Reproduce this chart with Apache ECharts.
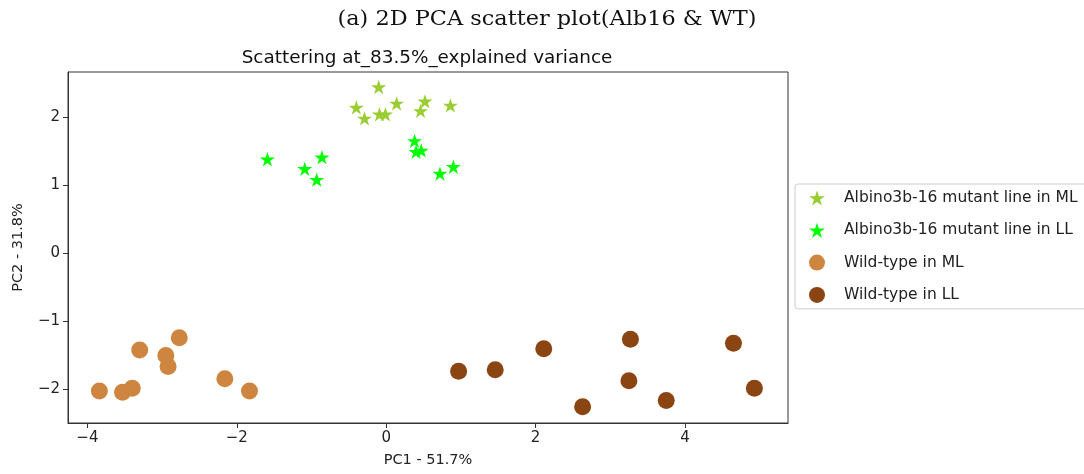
<!DOCTYPE html>
<html>
<head>
<meta charset="utf-8">
<script src="https://cdn.jsdelivr.net/npm/echarts@6/dist/echarts.min.js"></script>
<style>
  html, body { margin: 0; padding: 0; background: #fff; }
  #chart { width: 1084px; height: 474px; }
</style>
</head>
<body>
<div id="chart"></div>
<script>
// PCA scores per group: [PC1, PC2]
const albMl = [
  [-0.10, 2.44], [-0.40, 2.14], [-0.29, 1.98], [-0.09, 2.04], [-0.01, 2.04],
  [0.14, 2.20], [0.52, 2.23], [0.46, 2.09], [0.86, 2.17]
];
const albLl = [
  [-1.59, 1.38], [-1.09, 1.24], [-0.86, 1.41], [-0.93, 1.08], [0.38, 1.65],
  [0.40, 1.49], [0.47, 1.51], [0.72, 1.17], [0.90, 1.27]
];
const wtMl = [
  [-3.84, -2.02], [-3.53, -2.04], [-3.40, -1.98], [-3.30, -1.42], [-2.95, -1.50],
  [-2.92, -1.66], [-2.77, -1.24], [-2.16, -1.84], [-1.83, -2.02]
];
const wtLl = [
  [0.97, -1.73], [1.46, -1.71], [2.11, -1.40], [2.63, -2.25], [3.27, -1.26],
  [3.25, -1.87], [3.75, -2.16], [4.65, -1.32], [4.93, -1.98]
];

const seriesNames = [
  'Albino3b-16 mutant line in ML',
  'Albino3b-16 mutant line in LL',
  'Wild-type in ML',
  'Wild-type in LL'
];
const xTicks = [-4, -2, 0, 2, 4];
const yTicks = [-2, -1, 0, 1, 2];

const STAR = 'path://M10 0 L12.245 6.91 L19.511 6.91 L13.633 11.18 L15.878 18.09 L10 13.82 L4.122 18.09 L6.367 11.18 L0.489 6.91 L7.755 6.91 Z';
const FONT = '"DejaVu Sans", sans-serif';
const minusFmt = v => (v < 0 ? '\u2212' + Math.abs(v) : String(v));

const chart = echarts.init(document.getElementById('chart'));
chart.setOption({
  animation: false,
  backgroundColor: '#fff',
  graphic: [
    {
      // figure caption, slightly widened serif
      type: 'text', x: 547, y: 20, scaleX: 1.12,
      style: {
        text: '(a) 2D PCA scatter plot(Alb16 & WT)',
        font: '20px "DejaVu Serif", serif',
        fill: '#111', align: 'center', verticalAlign: 'middle'
      }
    },
    {
      type: 'text', x: 427, y: 58,
      style: {
        text: 'Scattering at_83.5%_explained variance',
        font: '18.4px ' + FONT,
        fill: '#111', align: 'center', verticalAlign: 'middle'
      }
    }
  ],
  grid: {
    left: 68, right: 296, top: 72, bottom: 51,
    show: true, borderColor: '#333', borderWidth: 1
  },
  legend: {
    orient: 'vertical',
    left: 795, top: 184,
    padding: [6, 14, 6, 14],
    itemWidth: 16, itemHeight: 16, itemGap: 16.3,
    borderColor: '#ccc', borderWidth: 1, borderRadius: 3,
    backgroundColor: '#fff',
    selectedMode: false,
    textStyle: { fontFamily: FONT, fontSize: 15.5, color: '#222', padding: [0, 0, 0, 14] },
    data: [
      { name: seriesNames[0], icon: STAR },
      { name: seriesNames[1], icon: STAR },
      { name: seriesNames[2], icon: 'circle' },
      { name: seriesNames[3], icon: 'circle' }
    ]
  },
  xAxis: {
    type: 'value', min: -4.26, max: 5.38,
    name: 'PC1 - 51.7%', nameLocation: 'middle', nameGap: 30,
    nameTextStyle: { fontFamily: FONT, fontSize: 14.5, color: '#222' },
    axisLine: { show: true, onZero: false, lineStyle: { color: '#333' } },
    axisTick: { show: true, length: 5, customValues: xTicks, lineStyle: { color: '#333' } },
    axisLabel: { customValues: xTicks, formatter: minusFmt, margin: 8, fontFamily: FONT, fontSize: 15, color: '#222' },
    splitLine: { show: false }
  },
  yAxis: {
    type: 'value', min: -2.49, max: 2.66,
    name: 'PC2 - 31.8%', nameLocation: 'middle', nameGap: 42, nameRotate: 90,
    nameTextStyle: { fontFamily: FONT, fontSize: 14.5, color: '#222' },
    axisLine: { show: true, onZero: false, lineStyle: { color: '#333' } },
    axisTick: { show: true, length: 5, customValues: yTicks, lineStyle: { color: '#333' } },
    axisLabel: { customValues: yTicks, formatter: minusFmt, margin: 8, fontFamily: FONT, fontSize: 15, color: '#222' },
    splitLine: { show: false }
  },
  series: [
    { name: seriesNames[0], type: 'scatter', data: albMl, symbol: STAR, symbolSize: [15, 14.3], itemStyle: { color: '#9acd32', opacity: 1 } },
    { name: seriesNames[1], type: 'scatter', data: albLl, symbol: STAR, symbolSize: [15, 14.3], itemStyle: { color: '#00ff00', opacity: 1 } },
    { name: seriesNames[2], type: 'scatter', data: wtMl, symbol: 'circle', symbolSize: 17, itemStyle: { color: '#cd853f', opacity: 1 } },
    { name: seriesNames[3], type: 'scatter', data: wtLl, symbol: 'circle', symbolSize: 17, itemStyle: { color: '#8b4513', opacity: 1 } }
  ]
});
</script>
</body>
</html>
